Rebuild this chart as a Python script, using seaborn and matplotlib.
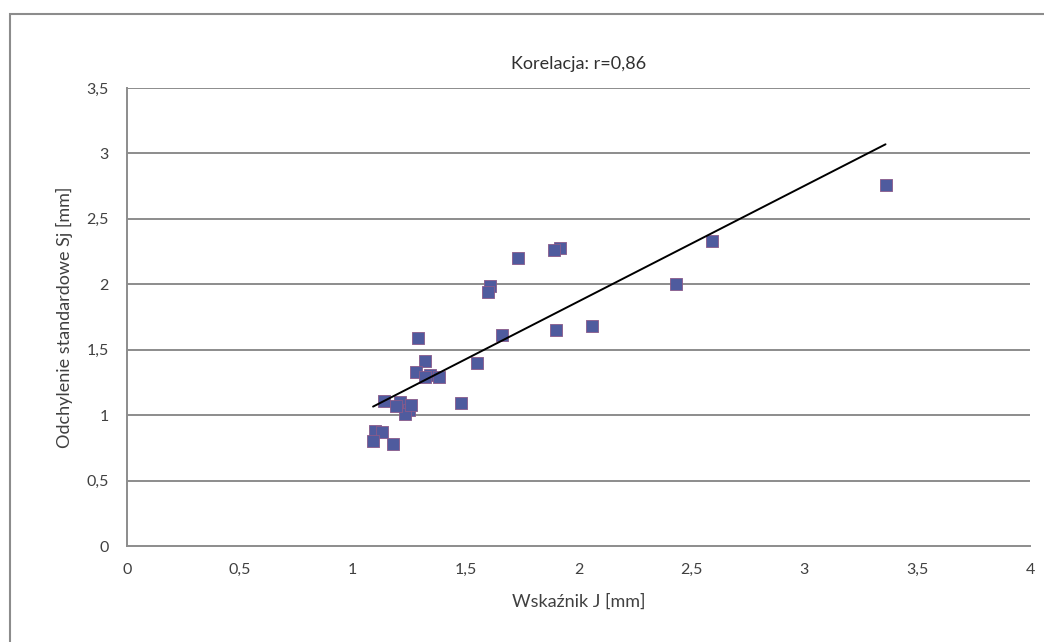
import numpy as np
import pandas as pd
import matplotlib
matplotlib.use("Agg")
import matplotlib.pyplot as plt
import seaborn as sns
from matplotlib.patches import Rectangle

# Dane
wskaznik_j = [3.36, 2.59, 2.43, 2.06, 1.90, 1.92, 1.89, 1.73, 1.61, 1.60,
              1.66, 1.55, 1.48, 1.29, 1.32, 1.28, 1.34, 1.38, 1.32, 1.14,
              1.21, 1.25, 1.23, 1.19, 1.26, 1.10, 1.13, 1.09, 1.18]
odchylenie_sj = [2.76, 2.33, 2.00, 1.68, 1.65, 2.28, 2.26, 2.20, 1.99, 1.94,
                 1.61, 1.40, 1.09, 1.59, 1.41, 1.33, 1.31, 1.29, 1.29, 1.11,
                 1.10, 1.04, 1.01, 1.07, 1.08, 0.88, 0.87, 0.80, 0.78]
x_ticks = [0, 0.5, 1, 1.5, 2, 2.5, 3, 3.5, 4]
y_ticks = [0, 0.5, 1, 1.5, 2, 2.5, 3, 3.5]

df = pd.DataFrame({"J": wskaznik_j, "Sj": odchylenie_sj})

sns.set_style("white")
plt.rcParams["font.family"] = ["Lato", "DejaVu Sans"]

fig = plt.figure(figsize=(10.44, 6.42), dpi=100)
ax = fig.add_axes([127 / 1044, 1 - 546 / 642, 903 / 1044, 458 / 642])

# ramka wykresu
fig.patches.append(Rectangle((10 / 1044, -0.1), 1.1, 1 - 14 / 642 + 0.1,
                             transform=fig.transFigure, fill=False,
                             edgecolor="#8c8c8c", linewidth=1.5))

for yv in y_ticks[1:]:
    ax.axhline(yv, color="#8c8c8c", linewidth=1.4, zorder=0)

sns.scatterplot(data=df, x="J", y="Sj", marker="s", s=72, color="#4f5b9e",
                edgecolor="#8a5a8a", linewidth=0.6, ax=ax, zorder=3)

# linia trendu (dopasowanie liniowe)
a, b = np.polyfit(df["J"], df["Sj"], 1)
xs = np.array([df["J"].min(), df["J"].max()])
ax.plot(xs, a * xs + b, color="black", linewidth=1.4, zorder=4)

ax.set_xlim(0, 4)
ax.set_ylim(0, 3.5)
ax.set_xticks(x_ticks)
ax.set_yticks(y_ticks)
fmt = lambda v: ("%g" % v).replace(".", ",")
ax.set_xticklabels([fmt(v) for v in x_ticks])
ax.set_yticklabels([fmt(v) for v in y_ticks])

for side in ["top", "right"]:
    ax.spines[side].set_visible(False)
for side in ["left", "bottom"]:
    ax.spines[side].set_color("#8c8c8c")
    ax.spines[side].set_linewidth(1.4)
ax.tick_params(axis="both", direction="out", length=5, width=1,
               color="#8c8c8c", labelsize=11.5, labelcolor="#404040")
ax.tick_params(axis="x", pad=7)
ax.tick_params(axis="y", pad=8)

ax.set_xlabel("Wskaźnik J [mm]", fontsize=13, color="#404040", labelpad=12)
ax.set_ylabel("Odchylenie standardowe Sj [mm]", fontsize=13, color="#404040", labelpad=10)
ax.set_title("Korelacja: r=0,86", fontsize=13, color="#303030", pad=14)

plt.savefig("out.png", dpi=100)
